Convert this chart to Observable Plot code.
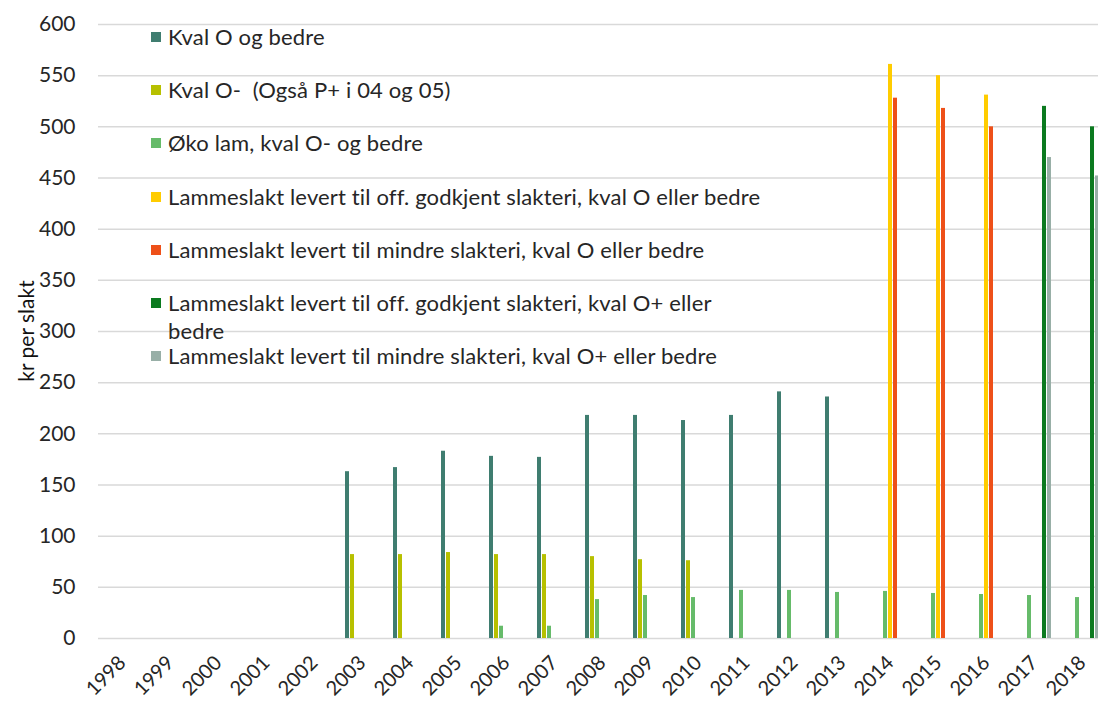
<!DOCTYPE html>
<html>
<head>
<meta charset="utf-8">
<script src="https://cdn.jsdelivr.net/npm/d3@7"></script>
<script src="https://cdn.jsdelivr.net/npm/@observablehq/plot@0.6"></script>
<style>
  html, body { margin: 0; padding: 0; background: #fff; }
  #wrap { position: relative; width: 1098px; height: 702px; overflow: hidden; font-family: Lato, "Open Sans", sans-serif; }
  #legend { position: absolute; left: 0; top: 0; }
  .row { position: absolute; left: 151px; display: flex; align-items: flex-start; font-size: 22px; letter-spacing: 0.15px; line-height: 28px; color: #262626; white-space: pre; }
  .sw { width: 10px; height: 10px; margin-top: 9px; margin-right: 7px; flex: none; }
  #ytitle { position: absolute; left: 25px; top: 331px; transform: translate(-50%, -50%) rotate(-90deg); font-size: 21px; color: #111; white-space: nowrap; }
</style>
</head>
<body>
<div id="wrap">
  <div id="chart"></div>
  <div id="legend"></div>
  <div id="ytitle"></div>
</div>
<script>
const years = [1998,1999,2000,2001,2002,2003,2004,2005,2006,2007,2008,2009,2010,2011,2012,2013,2014,2015,2016,2017,2018];
const seriesNames = [
  "Kval O og bedre",
  "Kval O-  (Også P+ i 04 og 05)",
  "Øko lam, kval O- og bedre",
  "Lammeslakt levert til off. godkjent slakteri, kval O eller bedre",
  "Lammeslakt levert til mindre slakteri, kval O eller bedre",
  "Lammeslakt levert til off. godkjent slakteri, kval O+ eller bedre",
  "Lammeslakt levert til mindre slakteri, kval O+ eller bedre"
];
const seriesColors = ["#3f7d70", "#b7c000", "#66bb6a", "#ffcc00", "#ee5019", "#0b7a1f", "#98afa7"];
const yTicks = [0,50,100,150,200,250,300,350,400,450,500,550,600];
const yTitle = "kr per slakt";

// values per year (1998..2018), null = no bar
const kvalO      = [null,null,null,null,null,163,167,183,178,177,218,218,213,218,241,236,null,null,null,null,null];
const kvalOminus = [null,null,null,null,null,82,82,84,82,82,80,77,76,null,null,null,null,null,null,null,null];
const oko        = [null,null,null,null,null,null,null,null,12,12,38,42,40,47,47,45,46,44,43,42,40];
const offO       = [null,null,null,null,null,null,null,null,null,null,null,null,null,null,null,null,561,550,531,null,null];
const mindreO    = [null,null,null,null,null,null,null,null,null,null,null,null,null,null,null,null,528,518,500,null,null];
const offOplus   = [null,null,null,null,null,null,null,null,null,null,null,null,null,null,null,null,null,null,null,520,500];
const mindreOplus= [null,null,null,null,null,null,null,null,null,null,null,null,null,null,null,null,null,null,null,470,452];

const allSeries = [kvalO, kvalOminus, oko, offO, mindreO, offOplus, mindreOplus];
const data = [];
allSeries.forEach((vals, si) => {
  vals.forEach((v, yi) => {
    if (v != null) data.push({year: years[yi], series: seriesNames[si], value: v});
  });
});
// gridlines for every year facet (so empty years also show the grid)
const gridRows = [];
years.forEach(yr => yTicks.forEach(t => gridRows.push({year: yr, tick: t})));

const chart = Plot.plot({
  width: 1098,
  height: 702,
  marginTop: 24,
  marginBottom: 64,
  marginLeft: 98,
  marginRight: 0,
  style: {fontFamily: "Lato, 'Open Sans', sans-serif", color: "#262626", background: "#fff"},
  fx: {domain: years, range: [98, 1106], padding: 0, label: null},
  x: {domain: seriesNames, axis: null, paddingInner: 0.27, paddingOuter: 1.0},
  y: {domain: [0, 600], label: null},
  color: {domain: seriesNames, range: seriesColors},
  marks: [
    Plot.ruleY(gridRows, {fx: "year", y: "tick", stroke: "#d9d9d9", strokeWidth: 1.5}),
    Plot.axisY({ticks: yTicks, anchor: "left", tickSize: 0, tickPadding: 23, fontSize: 21, label: null}),
    Plot.axisFx({anchor: "bottom", tickSize: 0, tickPadding: 21, tickRotate: -45, fontSize: 20, tickFormat: d => String(d), label: null}),
    Plot.barY(data, {fx: "year", x: "series", y: "value", fill: "series"})
  ]
});
document.getElementById("chart").appendChild(chart);

// legend
const legend = document.getElementById("legend");
seriesNames.forEach((name, i) => {
  const row = document.createElement("div");
  row.className = "row";
  row.style.top = (37 + 53.2 * i - 14) + "px";
  const sw = document.createElement("div");
  sw.className = "sw";
  sw.style.background = seriesColors[i];
  const tx = document.createElement("div");
  if (i === 5) {
    const cut = name.lastIndexOf(" ");
    tx.appendChild(document.createTextNode(name.slice(0, cut)));
    tx.appendChild(document.createElement("br"));
    tx.appendChild(document.createTextNode(name.slice(cut + 1)));
  } else {
    tx.textContent = name;
  }
  row.appendChild(sw);
  row.appendChild(tx);
  legend.appendChild(row);
});
document.getElementById("ytitle").textContent = yTitle;
</script>
</body>
</html>
